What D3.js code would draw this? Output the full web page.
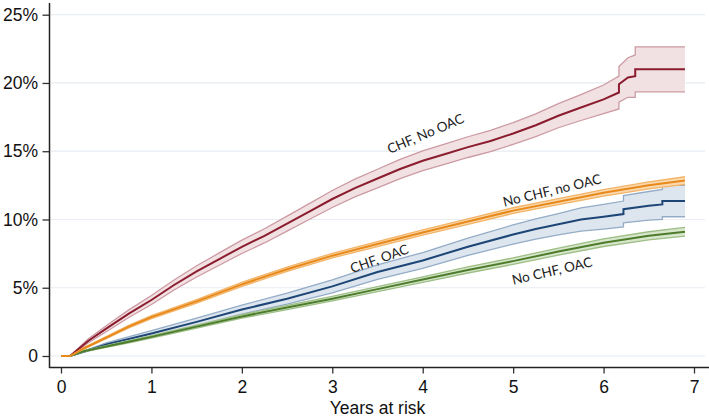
<!DOCTYPE html>
<html>
<head>
<meta charset="utf-8">
<script src="https://cdn.jsdelivr.net/npm/d3@7"></script>
<style>
  body { margin: 0; background: #fff; }
  svg { display: block; }
</style>
</head>
<body>
<div id="canvas"></div>
<script>
"use strict"

/* ---------- DATA (cumulative incidence, %) ---------- */
let yTicks = [0, 5, 10, 15, 20, 25];
let xTicks = [0, 1, 2, 3, 4, 5, 6, 7];

/* CHF, No OAC */
let redTime = [0, 0.1, 0.3, 0.5, 0.75, 1.0, 1.25, 1.5, 1.75, 2.0, 2.25, 2.5, 2.75, 3.0, 3.25, 3.5, 3.75, 4.0, 4.25, 4.5, 4.75, 5.0, 5.25, 5.5, 5.75, 6.0, 6.17, 6.17, 6.27, 6.35, 6.35, 6.9];
let redEst  = [0, 0, 1.1, 2.0, 3.1, 4.1, 5.2, 6.2, 7.1, 8.0, 8.8, 9.7, 10.6, 11.5, 12.3, 13.0, 13.7, 14.3, 14.8, 15.3, 15.75, 16.3, 16.9, 17.6, 18.2, 18.8, 19.3, 19.9, 20.4, 20.5, 21.0, 21.0];
let redHalf = [0, 0, 0.15, 0.22, 0.28, 0.33, 0.37, 0.41, 0.45, 0.49, 0.52, 0.55, 0.58, 0.62, 0.65, 0.68, 0.7, 0.72, 0.74, 0.76, 0.78, 0.8, 0.83, 0.88, 0.95, 1.05, 1.2, 1.3, 1.45, 1.55, 1.65, 1.65];

/* CHF, OAC */
let blueTime = [0, 0.1, 0.5, 1, 1.5, 2, 2.5, 3, 3.5, 4, 4.5, 5, 5.25, 5.5, 5.75, 6.0, 6.22, 6.22, 6.5, 6.65, 6.65, 6.9];
let blueEst  = [0, 0, 0.85, 1.65, 2.5, 3.4, 4.2, 5.1, 6.15, 7.0, 8.0, 8.9, 9.3, 9.65, 10.0, 10.2, 10.4, 10.75, 11.0, 11.1, 11.35, 11.35];
let blueHalf = [0, 0, 0.12, 0.2, 0.27, 0.33, 0.4, 0.47, 0.53, 0.58, 0.63, 0.7, 0.74, 0.78, 0.85, 0.9, 0.95, 1.0, 1.05, 1.1, 1.15, 1.15];

/* No CHF groups share one time grid */
let commonTime = [0, 0.1, 0.25, 0.5, 0.75, 1, 1.5, 2, 2.5, 3, 3.5, 4, 4.5, 5, 5.5, 6, 6.5, 6.9];
let orangeEst  = [0, 0, 0.55, 1.35, 2.15, 2.85, 4.0, 5.25, 6.35, 7.35, 8.2, 9.05, 9.85, 10.65, 11.3, 11.95, 12.5, 12.85];
let orangeHalf = [0, 0, 0.05, 0.08, 0.1, 0.11, 0.13, 0.15, 0.16, 0.17, 0.18, 0.19, 0.2, 0.21, 0.22, 0.24, 0.26, 0.28];
let greenEst   = [0, 0, 0.35, 0.7, 1.05, 1.4, 2.15, 2.9, 3.55, 4.2, 4.9, 5.6, 6.3, 6.95, 7.65, 8.3, 8.8, 9.1];
let greenHalf  = [0, 0, 0.04, 0.06, 0.08, 0.09, 0.11, 0.13, 0.15, 0.17, 0.19, 0.2, 0.22, 0.24, 0.26, 0.28, 0.3, 0.32];

/* curve labels: text, position in data units, angle */
let labelText  = ["CHF, No OAC", "No CHF, no OAC", "CHF, OAC", "No CHF, OAC"];
let labelTime  = [4.03, 5.43, 3.52, 5.43];
let labelValue = [16.3, 12.15, 7.15, 6.25];
let labelAngle = [-23, -13.5, -19.5, -13];

/* ---------- CANVAS ---------- */
let drawing = d3.select("#canvas")
    .append("svg")
    .attr("width", 709)
    .attr("height", 419);

let xScale = d3.scaleLinear().domain([0, 7]).range([61, 694]);
let yScale = d3.scaleLinear().domain([0, 25]).range([356, 14.7]);

/* gridlines */
drawing.append("g").selectAll("line")
  .data(yTicks)
  .join("line")
  .attr("x1", 51).attr("x2", 705)
  .attr("y1", d => yScale(d)).attr("y2", d => yScale(d))
  .attr("stroke", "#e7edf2")
  .attr("stroke-width", 1.2);

/* ---------- SERIES ---------- */
function makeSeries(time, est, half) {
  return time.map((t, i) => ({ t: t, v: est[i], lo: est[i] - half[i], hi: est[i] + half[i] }));
}

let seriesList = [
  { data: makeSeries(redTime, redEst, redHalf), line: "#8b1c2e", fill: "#f1e1e3", edge: "#cc9aa2" },
  { data: makeSeries(blueTime, blueEst, blueHalf), line: "#1d4677", fill: "#dde5ee", edge: "#94acc7" },
  { data: makeSeries(commonTime, greenEst, greenHalf), line: "#4d7d2c", fill: "#d8e6cc", edge: "#9dbf86" },
  { data: makeSeries(commonTime, orangeEst, orangeHalf), line: "#e8891b", fill: "#f9d9ad", edge: "#f3b469" }
];

let bandArea = d3.area()
  .x(d => xScale(d.t))
  .y0(d => yScale(d.lo))
  .y1(d => yScale(d.hi));

let estLine = d3.line().x(d => xScale(d.t)).y(d => yScale(d.v));
let loLine = d3.line().x(d => xScale(d.t)).y(d => yScale(d.lo));
let hiLine = d3.line().x(d => xScale(d.t)).y(d => yScale(d.hi));

seriesList.forEach(s => {
  drawing.append("path").attr("d", bandArea(s.data))
    .attr("fill", s.fill).attr("stroke", "none");
  drawing.append("path").attr("d", loLine(s.data))
    .attr("fill", "none").attr("stroke", s.edge).attr("stroke-width", 1.3);
  drawing.append("path").attr("d", hiLine(s.data))
    .attr("fill", "none").attr("stroke", s.edge).attr("stroke-width", 1.3);
  drawing.append("path").attr("d", estLine(s.data))
    .attr("fill", "none").attr("stroke", s.line).attr("stroke-width", 2);
});

/* ---------- AXES ---------- */
let yAxis = drawing.append("g")
  .attr("transform", "translate(49.5,0)")
  .call(d3.axisLeft(yScale)
    .tickValues(yTicks)
    .tickFormat(d => d === 0 ? "0" : d + "%")
    .tickSize(7)
    .tickPadding(4.5));

let xAxis = drawing.append("g")
  .attr("transform", "translate(0,367.5)")
  .call(d3.axisBottom(xScale)
    .tickValues(xTicks)
    .tickFormat(d3.format("d"))
    .tickSize(6)
    .tickPadding(7.5));

[yAxis, xAxis].forEach(ax => {
  ax.select(".domain").remove();
  ax.selectAll(".tick line").attr("stroke", "#333").attr("stroke-width", 1.3);
  ax.selectAll(".tick text")
    .attr("fill", "#111")
    .style("font-family", "'Liberation Sans', Arial, sans-serif")
    .style("font-size", "17.5px");
});

/* axis spines */
drawing.append("line")
  .attr("x1", 49.5).attr("x2", 49.5).attr("y1", 3).attr("y2", 368)
  .attr("stroke", "#222").attr("stroke-width", 1.5);
drawing.append("line")
  .attr("x1", 49).attr("x2", 709).attr("y1", 367.5).attr("y2", 367.5)
  .attr("stroke", "#222").attr("stroke-width", 1.5);

/* axis title */
drawing.append("text")
  .attr("x", xScale(3.5)).attr("y", 414)
  .attr("text-anchor", "middle")
  .attr("fill", "#111")
  .style("font-family", "'Liberation Sans', Arial, sans-serif")
  .style("font-size", "17.5px")
  .text("Years at risk");

/* ---------- CURVE LABELS ---------- */
labelText.forEach((txt, i) => {
  let lx = xScale(labelTime[i]);
  let ly = yScale(labelValue[i]);
  drawing.append("text")
    .attr("transform", "translate(" + lx + "," + ly + ") rotate(" + labelAngle[i] + ")")
    .attr("text-anchor", "middle")
    .attr("dominant-baseline", "central")
    .attr("fill", "#222")
    .style("font-family", "Lato, 'Open Sans', sans-serif")
    .style("font-size", "13.5px")
    .text(txt);
});
</script>
</body>
</html>
